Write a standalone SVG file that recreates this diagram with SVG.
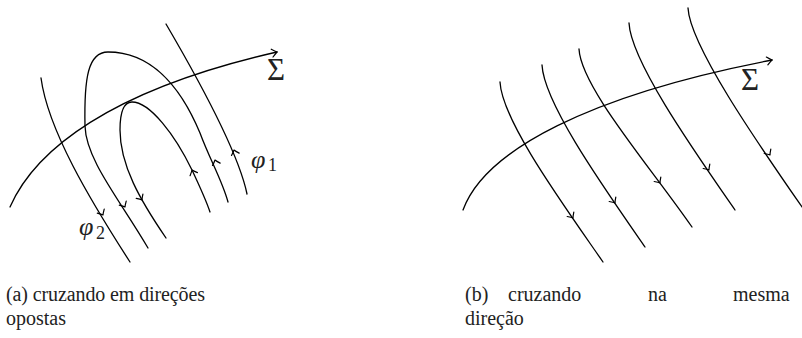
<svg xmlns="http://www.w3.org/2000/svg" width="802" height="338" viewBox="0 0 802 338">
<style>
.ln{fill:none;stroke:#000;stroke-width:1.3;stroke-linecap:round}
.ah{fill:none;stroke:#000;stroke-width:1.2;stroke-linecap:round;stroke-linejoin:round}
</style>
<defs>
<path id="chev" class="ah" d="M-4.5,-4 Q-1.5,-1 0,0 Q-1.5,1 -4.5,4"/>
<marker id="tip" markerWidth="12" markerHeight="12" refX="0" refY="0" viewBox="-6 -6 12 12" orient="auto" markerUnits="userSpaceOnUse">
<path d="M-5,-4 Q-1.5,-1 0,0 Q-1.5,1 -5,4" fill="none" stroke="#000" stroke-width="1.2" stroke-linecap="round"/>
</marker>
</defs>

<g id="sigma-a" font-family="'Liberation Serif', 'Times New Roman', serif" fill="#222">
<path class="ln" d="M10,207 C35,150 110,90 277,52" marker-end="url(#tip)"/>
<text x="267" y="80" font-size="31">Σ</text>
</g>
<g id="connectors-a">
<path class="ln" d="M41,78 C48,130 90,200 130,262"/>
<path class="ln" d="M148,248 C120,200 86,160 85,126 C84,78 88,52 108,52 C150,52 180,85 200,133 C210,160 222,180 228,202"/>
<path class="ln" d="M166,238 C140,200 120,165 120,130 C120,110 124,102 132,102 C150,102 175,135 192,170 C200,187 206,200 210,212"/>
<path class="ln" d="M166,24 C190,65 238,150 247,194"/>
<use href="#chev" transform="translate(103,215) rotate(60)"/>
<use href="#chev" transform="translate(125,207) rotate(60)"/>
<use href="#chev" transform="translate(142,200) rotate(57)"/>
<use href="#chev" transform="translate(192,170) rotate(-113)"/>
<use href="#chev" transform="translate(215,160) rotate(-107)"/>
<use href="#chev" transform="translate(234,150) rotate(-107)"/>
</g>
<g id="phi1" font-family="'Liberation Serif', 'Times New Roman', serif" fill="#222"><text x="251" y="168" font-size="26" font-style="italic">φ</text><text x="268" y="171" font-size="18">1</text></g>
<g id="phi2" font-family="'Liberation Serif', 'Times New Roman', serif" fill="#222"><text x="79" y="235" font-size="26" font-style="italic">φ</text><text x="96" y="239" font-size="18">2</text></g>
<g id="caption-a" font-family="'Liberation Serif', 'Times New Roman', serif" font-size="20" fill="#222">
<text x="6" y="301" textLength="199" lengthAdjust="spacing">(a) cruzando em direções</text>
<text x="6" y="325">opostas</text>
</g>

<g id="sigma-b" font-family="'Liberation Serif', 'Times New Roman', serif" fill="#222">
<path class="ln" d="M463,210 C485,150 590,95 772,60" marker-end="url(#tip)"/>
<text x="741" y="90" font-size="31">Σ</text>
</g>
<g id="connectors-b">
<path class="ln" d="M500,82 C502,120 560,200 603,262"/>
<path class="ln" d="M542,65 C544,103 602,185 645,247"/>
<path class="ln" d="M579,49 C581,87 649,165 692,227"/>
<path class="ln" d="M629,23 C631,61 692,148 735,210"/>
<path class="ln" d="M688,8 C690,46 759,145 802,207"/>
<use href="#chev" transform="translate(573,218) rotate(56)"/>
<use href="#chev" transform="translate(615,203) rotate(56)"/>
<use href="#chev" transform="translate(660,183) rotate(56)"/>
<use href="#chev" transform="translate(709,170) rotate(56)"/>
<use href="#chev" transform="translate(770,155) rotate(56)"/>
</g>
<g id="caption-b" font-family="'Liberation Serif', 'Times New Roman', serif" font-size="20" fill="#222">
<text x="465" y="301">(b)</text>
<text x="508" y="301">cruzando</text>
<text x="648" y="301">na</text>
<text x="733" y="301">mesma</text>
<text x="465" y="325">direção</text>
</g>
</svg>
